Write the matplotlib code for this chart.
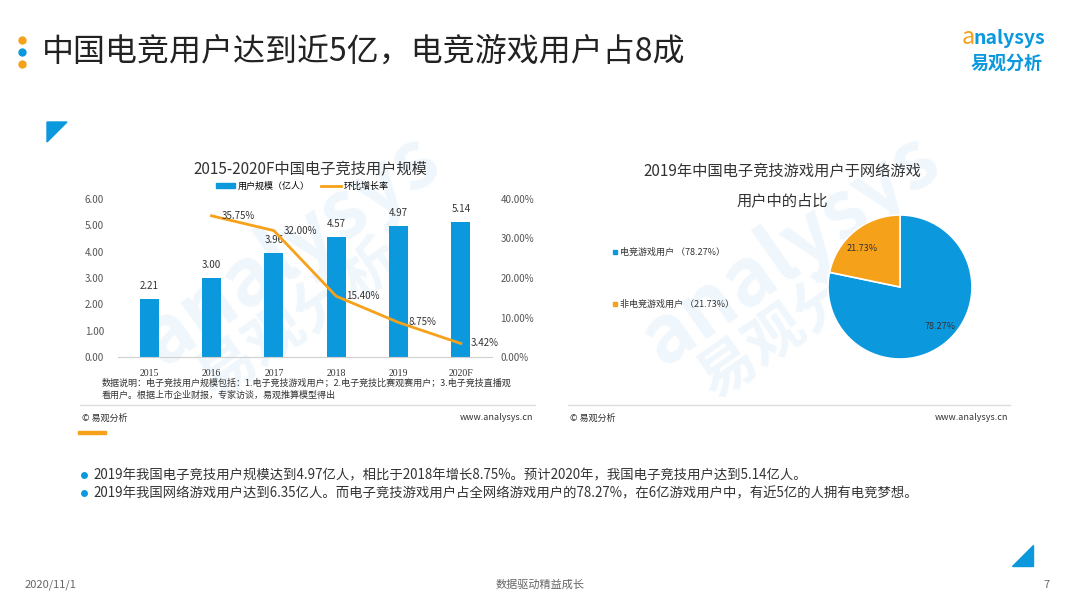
import matplotlib
matplotlib.use("Agg")
import matplotlib.pyplot as plt
from matplotlib.patches import Polygon, Rectangle
from matplotlib.lines import Line2D

plt.rcParams['font.family'] = ['Noto Sans CJK SC', 'DejaVu Sans']

BLUE = '#0C98DD'
ORANGE = '#F6A11A'
DARK = '#333333'

# data
years = ['2015', '2016', '2017', '2018', '2019', '2020F']
users = [2.21, 3.00, 3.96, 4.57, 4.97, 5.14]
growth_years = ['2016', '2017', '2018', '2019', '2020F']
growth = [35.75, 32.00, 15.40, 8.75, 3.42]

pie_labels = ['电竞游戏用户', '非电竞游戏用户']
pie_values = [78.27, 21.73]

W, H = 1080, 608
fig = plt.figure(figsize=(W / 100, H / 100), dpi=100)
fig.patch.set_facecolor('white')


def fx(px):
    return px / W


def fy(py):
    return 1 - py / H


def dot(px, py, c, size):
    fig.add_artist(Line2D([fx(px)], [fy(py)], marker='o', markersize=size, color=c,
                          markeredgewidth=0, transform=fig.transFigure))


# faint watermarks (behind everything)
for x0 in [290, 790]:
    fig.text(fx(x0), fy(250), 'analysys', fontsize=58, color='#F0F7FC',
             rotation=35, ha='center', va='center', weight='bold', zorder=-5)
    fig.text(fx(x0 + 10), fy(320), '易观分析', fontsize=42, color='#F0F7FC',
             rotation=35, ha='center', va='center', weight='bold', zorder=-5)

# page title
for yy, c in [(40, ORANGE), (52, BLUE), (64, ORANGE)]:
    dot(22, yy, c, 6)
fig.text(fx(42), fy(52), '中国电竞用户达到近5亿，电竞游戏用户占8成', fontsize=23,
         color='#222222', va='center', ha='left')

# logo
fig.text(fx(975), fy(38), 'a', fontsize=17, color=ORANGE, ha='right',
         va='center', style='italic')
fig.text(fx(1045), fy(39), 'nalysys', fontsize=14, color=BLUE, ha='right',
         va='center', style='italic', weight='bold')
fig.text(fx(1043), fy(63), '易观分析', fontsize=13, color=BLUE, ha='right',
         va='center', weight='bold')

# corner triangles
fig.patches.append(Polygon([(fx(47), fy(122)), (fx(67), fy(122)), (fx(47), fy(142))],
                           closed=True, color=BLUE, transform=fig.transFigure))
fig.patches.append(Polygon([(fx(1033), fy(545)), (fx(1033), fy(566)), (fx(1012), fy(566))],
                           closed=True, color=BLUE, transform=fig.transFigure))

# ---- bar + line chart
ax = fig.add_axes([fx(118), fy(357), fx(492) - fx(118), fy(199) - fy(357)])
ax.patch.set_alpha(0)
x = list(range(len(years)))
ax.bar(x, users, width=0.3, color=BLUE, zorder=2)
for xi, v in zip(x, users):
    ax.text(xi, v + 0.3, f'{v:.2f}', ha='center', va='bottom', fontsize=7, color=DARK)
ax.set_xlim(-0.5, 5.5)
ax.set_ylim(0, 6)
ax.set_yticks([0, 1, 2, 3, 4, 5, 6])
ax.set_yticklabels([f'{v:.2f}' for v in range(7)], fontsize=7, color='#555555')
ax.set_xticks(x)
ax.set_xticklabels(years, fontsize=7, color=DARK, family='Liberation Serif')
for s in ['top', 'right', 'left']:
    ax.spines[s].set_visible(False)
ax.spines['bottom'].set_color('#D0D0D0')
ax.tick_params(length=0, pad=9)
ax.tick_params(axis='y', pad=10)

ax2 = ax.twinx()
gx = [years.index(g) for g in growth_years]
ax2.plot(gx, growth, color=ORANGE, lw=2, zorder=3)
for xi, v in zip(gx, growth):
    ax2.annotate(f'{v:.2f}%', (xi, v), xytext=(7, 0), textcoords='offset points',
                 fontsize=7, color=DARK, va='center', ha='left')
ax2.set_ylim(0, 40)
ax2.set_yticks([0, 10, 20, 30, 40])
ax2.set_yticklabels([f'{v:.2f}%' for v in [0, 10, 20, 30, 40]], fontsize=7, color='#555555')
for s in ['top', 'right', 'left', 'bottom']:
    ax2.spines[s].set_visible(False)
ax2.tick_params(length=0, pad=6)

fig.text(fx(310), fy(170), '2015-2020F中国电子竞技用户规模', fontsize=11, color=DARK,
         ha='center', va='center', weight='medium')
leg_handles = [Rectangle((0, 0), 1, 1, color=BLUE), Line2D([0], [0], color=ORANGE, lw=2)]
fig.legend(leg_handles, ['用户规模（亿人）', '环比增长率'], loc='center',
           bbox_to_anchor=(fx(302), fy(186)), ncol=2, frameon=False, fontsize=6.5,
           handlelength=2.2, handleheight=0.6, columnspacing=1.2, handletextpad=0.3)

fig.text(fx(102), fy(383), '数据说明：电子竞技用户规模包括：1.电子竞技游戏用户；2.电子竞技比赛观赛用户；3.电子竞技直播观',
         fontsize=6.5, color=DARK, ha='left', va='center')
fig.text(fx(102), fy(395), '看用户。根据上市企业财报，专家访谈，易观推算模型得出',
         fontsize=6.5, color=DARK, ha='left', va='center')

# panel footers
for x0, x1 in [(80, 535), (568, 1010)]:
    fig.lines.append(Line2D([fx(x0), fx(x1)], [fy(405), fy(405)], color='#DDDDDD', lw=1,
                            transform=fig.transFigure))
    fig.text(fx(x0 + 2), fy(418), '© 易观分析', fontsize=6.5, color=DARK, ha='left', va='center')
    fig.text(fx(x1 - 2), fy(418), 'www.analysys.cn', fontsize=6.5, color=DARK, ha='right', va='center')
fig.patches.append(Rectangle((fx(78), fy(434)), fx(28), 3 / H, color=ORANGE,
                             transform=fig.transFigure))

# ---- pie chart
fig.text(fx(782), fy(172), '2019年中国电子竞技游戏用户于网络游戏', fontsize=11, color=DARK,
         ha='center', va='center', weight='medium')
fig.text(fx(782), fy(201), '用户中的占比', fontsize=11, color=DARK, ha='center', va='center',
         weight='medium')

r = 90
pax = fig.add_axes([fx(900 - r), fy(287 + r), fx(2 * r), 2 * r / H])
wedges, _ = pax.pie(pie_values, colors=[BLUE, ORANGE], startangle=90, counterclock=False,
                    wedgeprops=dict(edgecolor='white', linewidth=1.2))
pax.set_aspect('auto')
pax.text(0.55, -0.55, f'{pie_values[0]:.2f}%', fontsize=6.5, color=DARK, ha='center', va='center')
pax.text(-0.52, 0.54, f'{pie_values[1]:.2f}%', fontsize=6.5, color=DARK, ha='center', va='center')

for yy, lab, v, c in zip([252, 304], pie_labels, pie_values, [BLUE, ORANGE]):
    fig.patches.append(Rectangle((fx(613), fy(yy + 2)), 4 / W, 4 / H, color=c,
                                 transform=fig.transFigure))
    fig.text(fx(620), fy(yy), f'{lab} （{v:.2f}%）', fontsize=6.5, color=DARK,
             ha='left', va='center')

# bullets
bullets = [
    '2019年我国电子竞技用户规模达到4.97亿人，相比于2018年增长8.75%。预计2020年，我国电子竞技用户达到5.14亿人。',
    '2019年我国网络游戏用户达到6.35亿人。而电子竞技游戏用户占全网络游戏用户的78.27%，在6亿游戏用户中，有近5亿的人拥有电竞梦想。',
]
for yy, t in zip([475, 493], bullets):
    dot(84, yy, BLUE, 5)
    fig.text(fx(93), fy(yy), t, fontsize=9.6, color=DARK, ha='left', va='center')

# page footer
fig.text(fx(25), fy(585), '2020/11/1', fontsize=8, color='#666666', ha='left', va='center')
fig.text(fx(540), fy(585), '数据驱动精益成长', fontsize=8, color='#666666', ha='center', va='center')
fig.text(fx(1050), fy(585), '7', fontsize=8, color='#666666', ha='right', va='center')

fig.savefig('out.png', dpi=100, facecolor='white')
